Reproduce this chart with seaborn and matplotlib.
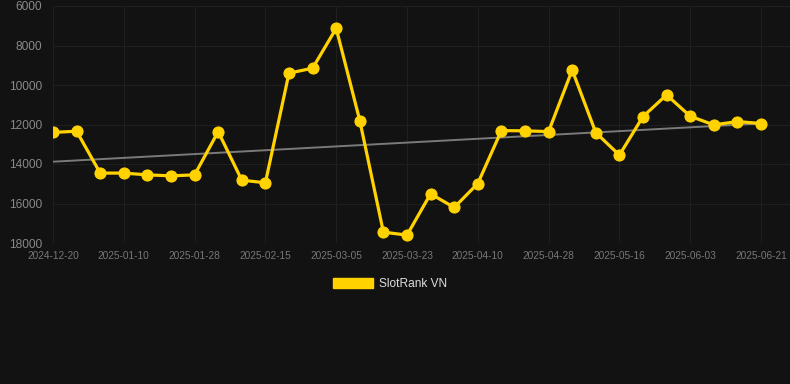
import pandas as pd
import numpy as np
import matplotlib
matplotlib.use('Agg')
import matplotlib.pyplot as plt
from matplotlib.patches import Patch
import seaborn as sns

# data
dates = ['2024-12-20', '2024-12-27', '2025-01-03', '2025-01-10', '2025-01-16', '2025-01-22',
         '2025-01-28', '2025-02-03', '2025-02-09', '2025-02-15', '2025-02-21', '2025-02-27',
         '2025-03-05', '2025-03-11', '2025-03-17', '2025-03-23', '2025-03-29', '2025-04-04',
         '2025-04-10', '2025-04-16', '2025-04-22', '2025-04-28', '2025-05-04', '2025-05-10',
         '2025-05-16', '2025-05-22', '2025-05-28', '2025-06-03', '2025-06-09', '2025-06-15',
         '2025-06-21']
ranks = [12400, 12340, 14460, 14460, 14550, 14600, 14550, 12360, 14820, 14950,
         9400, 9150, 7130, 11800, 17450, 17600, 15510, 16200, 14990, 12310,
         12320, 12360, 9240, 12410, 13550, 11600, 10500, 11580, 12020, 11850,
         11950]
series_name = 'SlotRank VN'
yticks = [6000, 8000, 10000, 12000, 14000, 16000, 18000]

df = pd.DataFrame({'date': dates, 'rank': ranks})
df['idx'] = np.arange(len(df))

bg = '#121212'
gold = '#ffd200'
grid_c = '#1f1f1f'

sns.set_theme(style='dark', rc={
    'figure.facecolor': bg, 'axes.facecolor': bg,
    'axes.edgecolor': bg, 'grid.color': grid_c,
})
plt.rcParams['font.family'] = ['Liberation Sans', 'DejaVu Sans']

fig = plt.figure(figsize=(7.9, 3.84), dpi=100)
ax = fig.add_axes([53 / 790, 1 - 243 / 384, 737 / 790, 237 / 384])

# trend line (linear fit)
coef = np.polyfit(df['idx'], df['rank'], 1)
df['trend'] = np.polyval(coef, df['idx'])
sns.lineplot(data=df, x='idx', y='trend', ax=ax, color='#7a7a7a', linewidth=1.4, zorder=2)

sns.lineplot(data=df, x='idx', y='rank', ax=ax, color=gold, linewidth=2.3,
             marker='o', markersize=8, markeredgecolor=gold, zorder=3)

ax.set_xlim(0, 31.23)
ax.set_ylim(18000, 6000)
ax.set_yticks(yticks)
ax.set_yticklabels([str(v) for v in yticks])
tick_idx = list(range(0, len(dates), 3))
ax.set_xticks(tick_idx)
ax.set_xticklabels([dates[i] for i in tick_idx])
ax.grid(True, color=grid_c, linewidth=0.8)
ax.tick_params(axis='y', colors='#888888', labelsize=8.6, length=0, pad=8)
ax.tick_params(axis='x', colors='#777777', labelsize=7.3, length=3, width=0.8, pad=3)
ax.tick_params(axis='x', color=grid_c)
ax.set_xlabel('')
ax.set_ylabel('')
for s in ax.spines.values():
    s.set_visible(False)

fig.legend(handles=[Patch(facecolor=gold, edgecolor=gold, label=series_name)],
           loc='center', bbox_to_anchor=(0.494, 1 - 284 / 384), frameon=False,
           fontsize=8.6, labelcolor='#dddddd', handlelength=3.35, handleheight=0.92,
           handletextpad=0.5)

fig.savefig('out.png', dpi=100, facecolor=bg)
